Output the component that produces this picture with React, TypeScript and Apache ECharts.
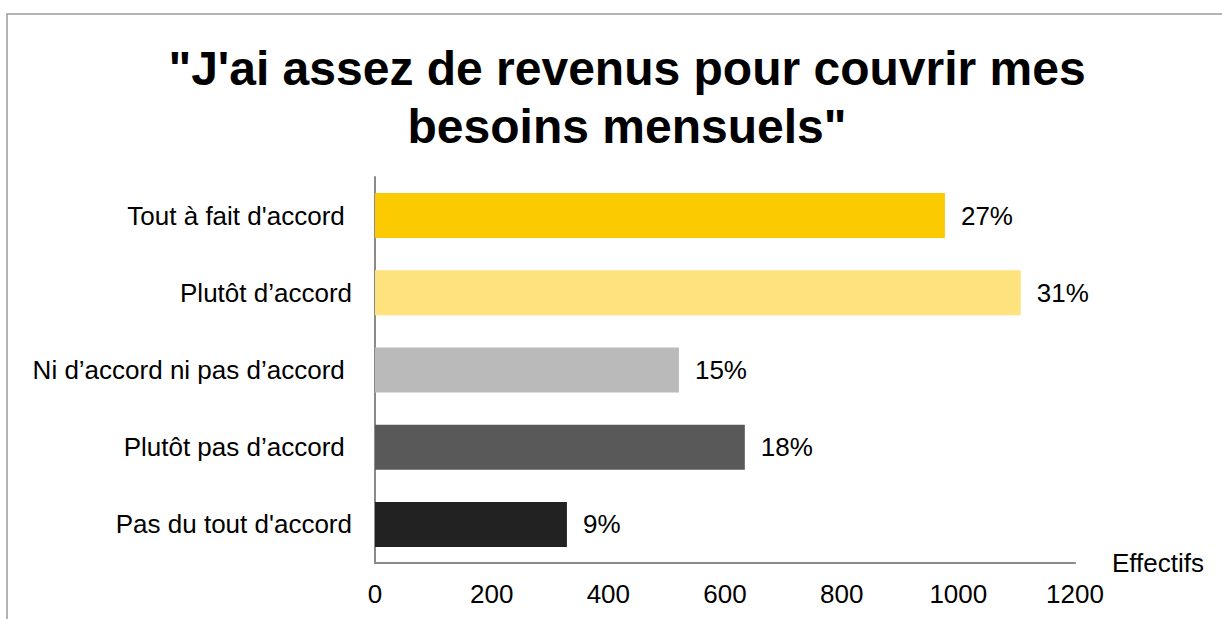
import React, { useEffect, useRef } from "react";
import * as echarts from "echarts";

const titleLines = ["\"J'ai assez de revenus pour couvrir mes", "besoins mensuels\""];
const categories = [
  "Tout à fait d'accord ",
  "Plutôt d’accord",
  "Ni d’accord ni pas d’accord ",
  "Plutôt pas d’accord ",
  "Pas du tout d'accord",
];
const effectifs = [977, 1107, 521, 634, 329];
const percentLabels = ["27%", "31%", "15%", "18%", "9%"];
const barColors = ["#FCCA00", "#FEE27D", "#BABABA", "#595959", "#222222"];
const xTicks = { min: 0, max: 1200, interval: 200 };
const axisName = "Effectifs";

const FONT = "'Liberation Sans', Arial, sans-serif";

export default function App() {
  const ref = useRef<HTMLDivElement>(null);
  useEffect(() => {
    document.body.style.margin = "0";
    const chart = echarts.init(ref.current!, null, { renderer: "svg" });
    chart.setOption({
      animation: false,
      backgroundColor: "#ffffff",
      graphic: [
        {
          type: "rect",
          shape: { x: 7, y: 14, width: 1240, height: 640 },
          style: { fill: "none", stroke: "#9a9a9a", lineWidth: 1.5 },
          silent: true,
          z: -1,
        },
      ],
      title: {
        text: titleLines.join("\n"),
        left: 622,
        top: 34,
        textAlign: "center",
        textStyle: {
          fontFamily: FONT,
          fontSize: 48,
          fontWeight: "bold",
          color: "#000",
          lineHeight: 58,
        },
      },
      grid: { left: 375, right: 147, top: 177, bottom: 56, containLabel: false },
      xAxis: {
        type: "value",
        min: xTicks.min,
        max: xTicks.max,
        interval: xTicks.interval,
        name: axisName,
        nameLocation: "end",
        nameGap: 37,
        nameTextStyle: {
          fontFamily: FONT,
          fontSize: 26,
          color: "#000",
          padding: [0, 0, 14, 0],
        },
        axisLine: { show: true, lineStyle: { color: "#8a8a8a", width: 2 } },
        axisTick: { show: false },
        splitLine: { show: false },
        axisLabel: {
          fontFamily: FONT,
          fontSize: 26,
          color: "#000",
          margin: 18,
          formatter: (v: number) => String(v),
        },
      },
      yAxis: {
        type: "category",
        data: categories,
        inverse: true,
        axisLine: { show: true, lineStyle: { color: "#8a8a8a", width: 2 } },
        axisTick: { show: false },
        axisLabel: { fontFamily: FONT, fontSize: 26, color: "#000", margin: 23 },
      },
      series: [
        {
          type: "bar",
          barWidth: 45,
          data: effectifs.map((v, i) => ({
            value: v,
            itemStyle: { color: barColors[i] },
            label: { formatter: percentLabels[i] },
          })),
          label: {
            show: true,
            position: "right",
            distance: 16,
            fontFamily: FONT,
            fontSize: 26,
            color: "#000",
          },
        },
      ],
    });
    return () => chart.dispose();
  }, []);
  return (
    <div
      ref={ref}
      style={{ position: "absolute", left: 0, top: 0, width: 1222, height: 619 }}
    />
  );
}
